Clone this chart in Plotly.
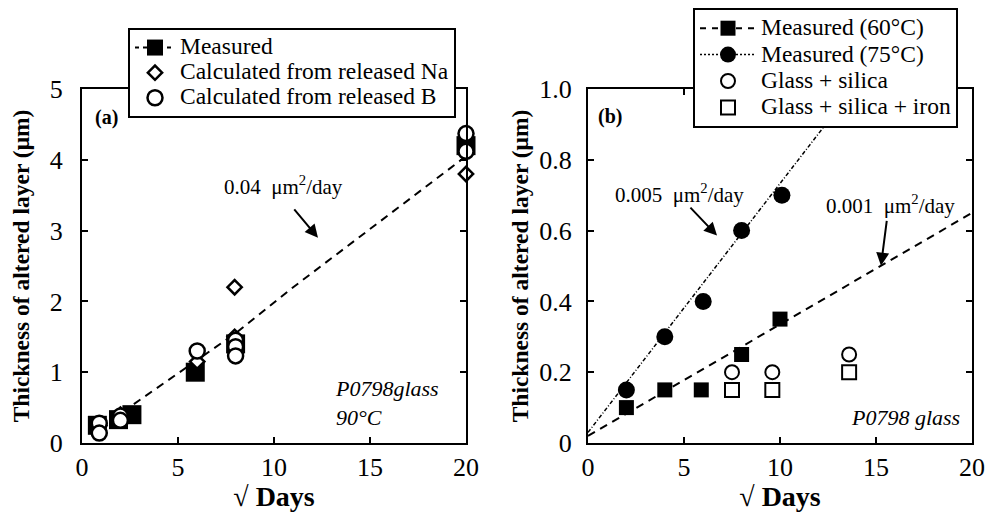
import plotly.graph_objects as go

# ---------------- Panel (a) data ----------------
a_meas_x = [0.8, 1.9, 2.6, 5.9, 8.0, 20.0]
a_meas_y = [0.25, 0.33, 0.40, 1.00, 1.40, 4.20]
a_na_x = [0.9, 2.0, 6.0, 7.95, 7.95, 20.0]
a_na_y = [0.25, 0.40, 1.15, 1.50, 2.20, 3.80]
a_b_x = [0.9, 0.9, 2.0, 2.0, 6.0, 8.0, 8.0, 8.0, 20.0, 20.0]
a_b_y = [0.28, 0.14, 0.38, 0.32, 1.30, 1.45, 1.36, 1.23, 4.37, 4.12]
a_fit_x = [2.7, 8.0, 11.0, 20.0]
a_fit_y = [0.55, 1.55, 2.20, 4.05]

# ---------------- Panel (b) data ----------------
b_60_x = [2.0, 4.0, 5.9, 8.0, 10.0]
b_60_y = [0.10, 0.15, 0.15, 0.25, 0.35]
b_75_x = [2.0, 4.0, 6.0, 8.0, 10.1]
b_75_y = [0.15, 0.30, 0.40, 0.60, 0.70]
b_si_x = [7.5, 9.6, 13.6]
b_si_y = [0.20, 0.20, 0.25]
b_fe_x = [7.5, 9.6, 13.6]
b_fe_y = [0.15, 0.15, 0.20]
b_fit60_x = [0.0, 20.0]
b_fit60_y = [0.02, 0.65]
b_fit75_x = [0.0, 13.8]
b_fit75_y = [0.03, 1.00]

a_xticks = [0, 5, 10, 15, 20]
a_yticks = [0, 1, 2, 3, 4, 5]
b_xticks = [0, 5, 10, 15, 20]
b_yticks = [0, 0.2, 0.4, 0.6, 0.8, 1.0]
b_yticktext = ["0", "0.2", "0.4", "0.6", "0.8", "1.0"]

FONT = "Liberation Serif"
BLACK = "black"
DASH = "8px,6px"
DOTDASH = "4px,2px,1px,2px"


def lg(t):
    # legend label: larger glyphs while keeping the compact row pitch
    return '<span style="font-size:23.5px">' + t + '</span>'


fig = go.Figure()

# ---- panel (a) traces ----
fig.add_trace(go.Scatter(x=a_fit_x, y=a_fit_y, mode="lines", xaxis="x", yaxis="y",
                         line=dict(color=BLACK, width=2, dash=DASH), showlegend=False))
fig.add_trace(go.Scatter(x=a_meas_x, y=a_meas_y, mode="markers", xaxis="x", yaxis="y",
                         marker=dict(symbol="square", size=19, color=BLACK),
                         cliponaxis=False, showlegend=False))
fig.add_trace(go.Scatter(x=[None], y=[None], mode="lines+markers", name=lg("Measured"),
                         xaxis="x", yaxis="y", legend="legend",
                         line=dict(color=BLACK, width=2, dash="4px,4px"),
                         marker=dict(symbol="square", size=16, color=BLACK)))
fig.add_trace(go.Scatter(x=a_na_x, y=a_na_y, mode="markers",
                         name=lg("Calculated from released Na"),
                         xaxis="x", yaxis="y", legend="legend", cliponaxis=False,
                         marker=dict(symbol="diamond", size=11, color="white",
                                     line=dict(color=BLACK, width=2.5))))
fig.add_trace(go.Scatter(x=a_b_x, y=a_b_y, mode="markers",
                         name=lg("Calculated from released B"),
                         xaxis="x", yaxis="y", legend="legend", cliponaxis=False,
                         marker=dict(symbol="circle", size=15, color="white",
                                     line=dict(color=BLACK, width=2.5))))

# ---- panel (b) traces ----
fig.add_trace(go.Scatter(x=b_fit60_x, y=b_fit60_y, mode="lines", xaxis="x2", yaxis="y2",
                         line=dict(color=BLACK, width=2, dash=DASH), showlegend=False))
fig.add_trace(go.Scatter(x=b_fit75_x, y=b_fit75_y, mode="lines", xaxis="x2", yaxis="y2",
                         line=dict(color=BLACK, width=1.5, dash=DOTDASH), showlegend=False))
fig.add_trace(go.Scatter(x=b_60_x, y=b_60_y, mode="markers", xaxis="x2", yaxis="y2",
                         marker=dict(symbol="square", size=15, color=BLACK), showlegend=False))
fig.add_trace(go.Scatter(x=b_75_x, y=b_75_y, mode="markers", xaxis="x2", yaxis="y2",
                         marker=dict(symbol="circle", size=17, color=BLACK), showlegend=False))
fig.add_trace(go.Scatter(x=[None], y=[None], mode="lines+markers", name=lg("Measured (60°C)"),
                         xaxis="x2", yaxis="y2", legend="legend2",
                         line=dict(color=BLACK, width=2, dash="6px,6px"),
                         marker=dict(symbol="square", size=15, color=BLACK)))
fig.add_trace(go.Scatter(x=[None], y=[None], mode="lines+markers", name=lg("Measured (75°C)"),
                         xaxis="x2", yaxis="y2", legend="legend2",
                         line=dict(color=BLACK, width=1.5, dash="2px,2px"),
                         marker=dict(symbol="circle", size=16, color=BLACK)))
fig.add_trace(go.Scatter(x=b_si_x, y=b_si_y, mode="markers", name=lg("Glass + silica"),
                         xaxis="x2", yaxis="y2", legend="legend2",
                         marker=dict(symbol="circle", size=14, color="white",
                                     line=dict(color=BLACK, width=2))))
fig.add_trace(go.Scatter(x=b_fe_x, y=b_fe_y, mode="markers", name=lg("Glass + silica + iron"),
                         xaxis="x2", yaxis="y2", legend="legend2",
                         marker=dict(symbol="square", size=14, color="white",
                                     line=dict(color=BLACK, width=2))))

axis_common = dict(showline=True, linecolor=BLACK, linewidth=2, mirror="ticks",
                   ticks="inside", ticklen=6, tickwidth=2, tickcolor=BLACK,
                   showgrid=False, zeroline=False, automargin=False,
                   tickfont=dict(family=FONT, size=26, color=BLACK))

ydom = [1 - 443 / 512, 1 - 89 / 512]
ytitle_font = dict(family=FONT, size=23.5, color=BLACK)
ytitle_text = "<b>Thickness of altered layer (μm)</b>"
xtitle = dict(text="√ <b>Days</b>", font=dict(family=FONT, size=28, color=BLACK), standoff=13)

fig.update_layout(
    width=989, height=512,
    margin=dict(l=0, r=0, t=0, b=0, autoexpand=False),
    paper_bgcolor="white", plot_bgcolor="white",
    font=dict(family=FONT, color=BLACK),
    xaxis=dict(domain=[82 / 989, 466 / 989], range=[0, 20], tickvals=a_xticks,
               anchor="y", title=xtitle, ticklabelstandoff=0, **axis_common),
    yaxis=dict(domain=ydom, range=[0, 5], tickvals=a_yticks, anchor="x",
               ticklabelstandoff=12,
               title=dict(text=ytitle_text, font=ytitle_font, standoff=14), **axis_common),
    xaxis2=dict(domain=[588 / 989, 972 / 989], range=[0, 20], tickvals=b_xticks,
                anchor="y2", title=xtitle, ticklabelstandoff=0, **axis_common),
    yaxis2=dict(domain=ydom, range=[0, 1.0], tickvals=b_yticks, ticktext=b_yticktext,
                anchor="x2", ticklabelstandoff=9,
                title=dict(text=ytitle_text, font=ytitle_font, standoff=4), **axis_common),
    legend=dict(x=128 / 989, y=1 - 28 / 512, xanchor="left", yanchor="top",
                bgcolor="white", bordercolor=BLACK, borderwidth=2,
                font=dict(family=FONT, size=17, color=BLACK), tracegroupgap=0,
                itemwidth=40),
    legend2=dict(x=693 / 989, y=1 - 8 / 512, xanchor="left", yanchor="top",
                 bgcolor="white", bordercolor=BLACK, borderwidth=2,
                 font=dict(family=FONT, size=18, color=BLACK), tracegroupgap=0,
                 itemwidth=56),
)

ann_font = dict(family=FONT, size=21, color=BLACK)
annotations = [
    # panel (a)
    dict(x=1.25, y=4.6, xref="x", yref="y", text="<b>(a)</b>", showarrow=False,
         font=dict(family=FONT, size=20, color=BLACK)),
    dict(x=10.52, y=3.64, xref="x", yref="y", text="0.04  μm<sup>2</sup>/day",
         showarrow=False, font=ann_font),
    dict(x=12.29, y=2.9, xref="x", yref="y", ax=10.99, ay=3.32, axref="x", ayref="y",
         text="", showarrow=True, arrowhead=2, arrowsize=1.3, arrowwidth=2, arrowcolor=BLACK),
    dict(x=13.07, y=0.57, xref="x", yref="y", text="<i>P0798glass<br>90°C</i>",
         xanchor="left", align="left", showarrow=False,
         font=dict(family=FONT, size=22, color=BLACK)),
    # panel (b)
    dict(x=1.15, y=0.923, xref="x2", yref="y2", text="<b>(b)</b>", showarrow=False,
         font=dict(family=FONT, size=20, color=BLACK)),
    dict(x=4.74, y=0.705, xref="x2", yref="y2", text="0.005  μm<sup>2</sup>/day",
         showarrow=False, font=ann_font),
    dict(x=6.72, y=0.586, xref="x2", yref="y2", ax=5.26, ay=0.669, axref="x2", ayref="y2",
         text="", showarrow=True, arrowhead=2, arrowsize=1.3, arrowwidth=2, arrowcolor=BLACK),
    dict(x=15.73, y=0.674, xref="x2", yref="y2", text="0.001  μm<sup>2</sup>/day",
         showarrow=False, font=ann_font),
    dict(x=15.26, y=0.501, xref="x2", yref="y2", ax=15.57, ay=0.632, axref="x2", ayref="y2",
         text="", showarrow=True, arrowhead=2, arrowsize=1.3, arrowwidth=2, arrowcolor=BLACK),
    dict(x=19.48, y=0.071, xref="x2", yref="y2", text="<i>P0798 glass</i>",
         xanchor="right", showarrow=False, font=dict(family=FONT, size=22, color=BLACK)),
]
fig.update_layout(annotations=annotations)

fig.write_html("out.html")
